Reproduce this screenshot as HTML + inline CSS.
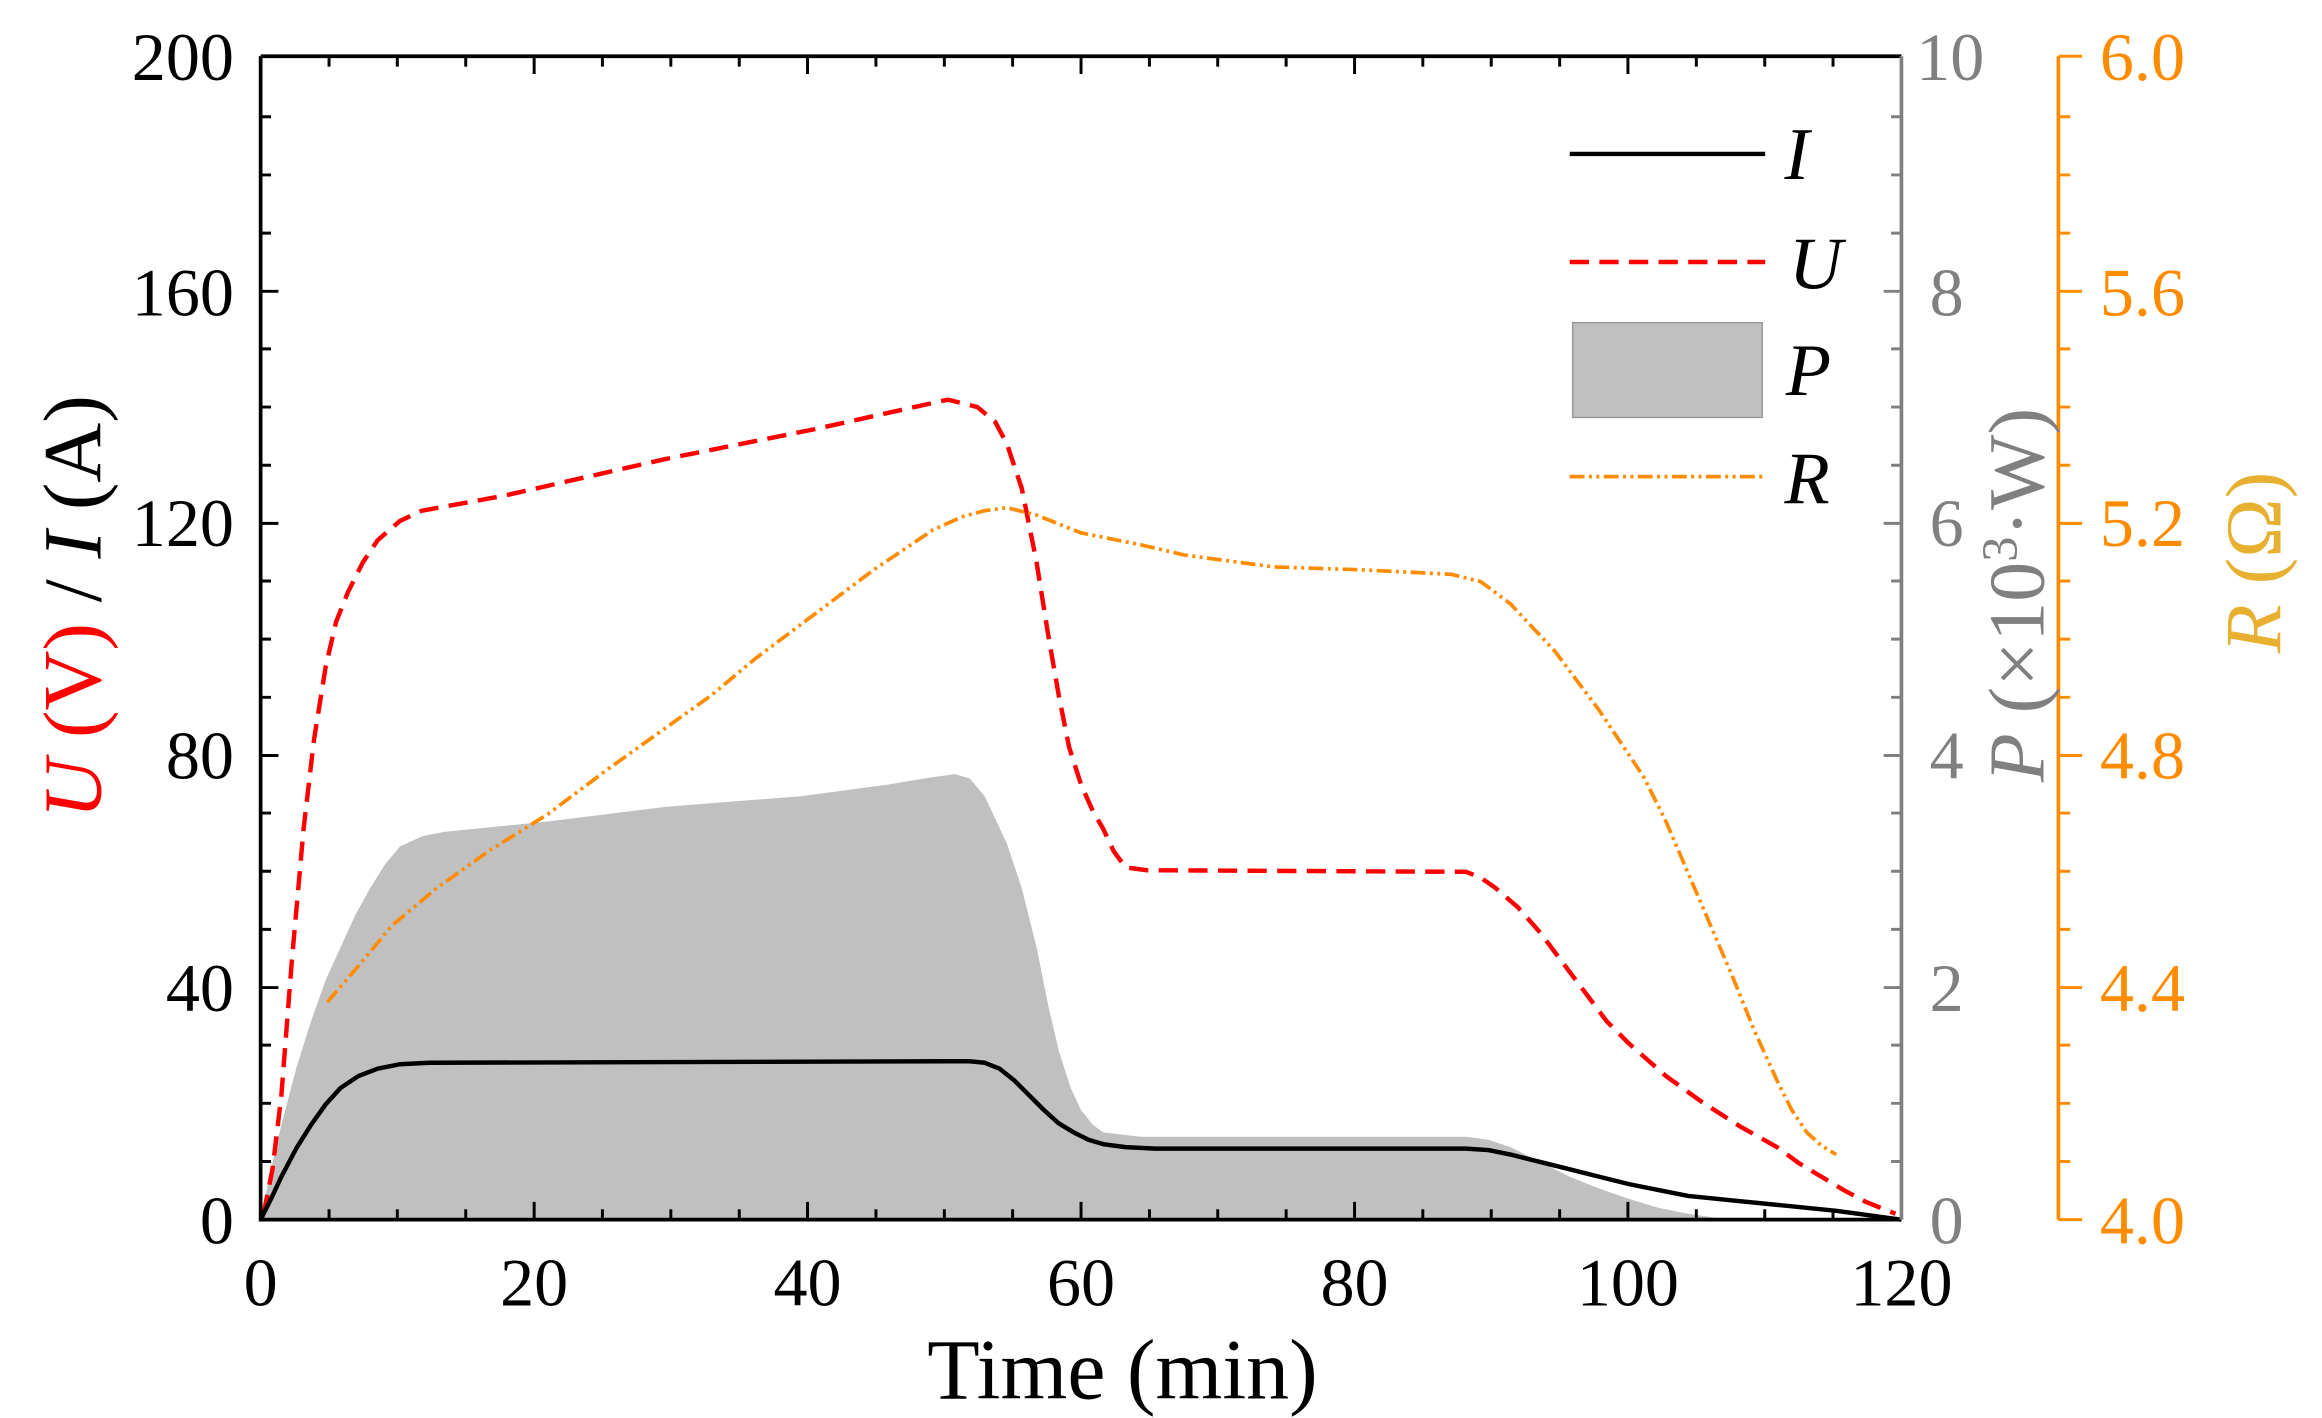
<!DOCTYPE html>
<html><head><meta charset="utf-8"><style>html,body{margin:0;padding:0;background:#fff}svg{display:block}</style></head>
<body>
<svg width="2322" height="1418" viewBox="0 0 1568 958" preserveAspectRatio="none" xmlns="http://www.w3.org/2000/svg" font-family="Liberation Serif, serif">
<rect width="1568" height="958" fill="#fff"/>
<path d="M176,824 L183,790 L190,760 L200,722 L210,690 L220,662 L230,640 L240,618 L250,600 L260,584 L270,572 L285,565 L300,562 L370,555 L450,545 L540,538 L600,530 L630,525 L645,523 L655,526 L665,538 L680,570 L690,600 L700,640 L708,680 L715,710 L723,735 L730,750 L738,760 L745,765 L770,768 L990,768 L1005,770 L1020,775 L1040,785 L1060,795 L1080,803 L1100,810 L1120,816 L1140,820 L1160,823 L1180,824 Z" fill="#c0c0c0"/>
<polyline fill="none" stroke="#ff0000" stroke-width="3" stroke-linejoin="round" stroke-dasharray="13,7" points="178,820 184,790 190,740 197,650 205,560 212,500 220,450 227,420 235,400 245,380 255,365 270,352 285,345 340,335 450,310 550,290 640,270 660,275 672,285 680,300 690,330 700,380 708,430 715,470 722,505 730,530 738,548 745,560 752,575 760,586 775,588 790,588 990,589 1000,593 1010,600 1025,613 1040,630 1055,650 1070,670 1085,690 1100,705 1125,727 1150,745 1175,761 1200,775 1215,786 1230,795 1245,804 1260,812 1280,820"/>
<polyline fill="none" stroke="#ff8c00" stroke-width="2.5" stroke-linejoin="round" stroke-dasharray="10,3,2,3,2,3" points="221,677 240,655 265,625 295,600 330,575 370,550 410,520 445,495 480,470 510,445 550,415 590,385 630,358 650,349 665,345 680,343 700,348 730,360 770,368 800,375 860,383 920,385 980,388 1000,393 1020,408 1050,440 1080,480 1110,525 1125,555 1140,590 1155,625 1170,660 1185,697 1200,730 1210,750 1220,765 1230,774 1240,780"/>
<polyline fill="none" stroke="#000" stroke-width="3" stroke-linejoin="round" points="176,824 183,810 190,795 200,776 210,760 220,746 230,735 242,727 255,722 270,719 290,718 640,717 655,717 665,718 675,722 685,730 695,740 705,750 715,759 725,765 735,770 745,773 760,775 780,776 990,776 1005,777 1020,780 1040,785 1060,790 1080,795 1100,800 1120,804 1140,808 1170,811 1200,814 1240,818 1284,824"/>
<path d="M176,38 V824 H1284" fill="none" stroke="#000" stroke-width="2.5"/>
<path d="M176,38 H1284" stroke="#000" stroke-width="2.5"/>
<path d="M1284,38 V824" stroke="#808080" stroke-width="2.5"/>
<path d="M1390,38 V824" stroke="#ff8c00" stroke-width="2.5"/>
<g stroke="#000" stroke-width="2">
<path d="M176,824v-12M360.7,824v-12M545.3,824v-12M730,824v-12M914.7,824v-12M1099.3,824v-12M176,38v12M360.7,38v12M545.3,38v12M730,38v12M914.7,38v12M1099.3,38v12"/>
<path d="M222.2,824v-7M268.3,824v-7M314.5,824v-7M406.8,824v-7M453,824v-7M499.2,824v-7M591.5,824v-7M637.7,824v-7M683.8,824v-7M776.2,824v-7M822.3,824v-7M868.5,824v-7M960.8,824v-7M1007,824v-7M1053.2,824v-7M1145.5,824v-7M1191.7,824v-7M1237.8,824v-7"/>
<path d="M222.2,38v7M268.3,38v7M314.5,38v7M406.8,38v7M453,38v7M499.2,38v7M591.5,38v7M637.7,38v7M683.8,38v7M776.2,38v7M822.3,38v7M868.5,38v7M960.8,38v7M1007,38v7M1053.2,38v7M1145.5,38v7M1191.7,38v7M1237.8,38v7"/>
<path d="M176,667.2h12M176,510.4h12M176,353.6h12M176,196.8h12"/>
<path d="M176,784.7h7M176,745.4h7M176,706.1h7M176,627.9h7M176,588.6h7M176,549.3h7M176,471.1h7M176,431.8h7M176,392.5h7M176,314.3h7M176,275h7M176,235.7h7M176,157.5h7M176,118.2h7M176,78.9h7"/>
</g>
<g stroke="#808080" stroke-width="2">
<path d="M1284,667.2h-12M1284,510.4h-12M1284,353.6h-12M1284,196.8h-12"/>
<path d="M1284,784.7h-7M1284,745.4h-7M1284,706.1h-7M1284,627.9h-7M1284,588.6h-7M1284,549.3h-7M1284,471.1h-7M1284,431.8h-7M1284,392.5h-7M1284,314.3h-7M1284,275h-7M1284,235.7h-7M1284,157.5h-7M1284,118.2h-7M1284,78.9h-7"/>
</g>
<g stroke="#ff8c00" stroke-width="2">
<path d="M1390,824h16M1390,667.2h16M1390,510.4h16M1390,353.6h16M1390,196.8h16M1390,38h16"/>
<path d="M1390,784.7h8M1390,745.4h8M1390,706.1h8M1390,627.9h8M1390,588.6h8M1390,549.3h8M1390,471.1h8M1390,431.8h8M1390,392.5h8M1390,314.3h8M1390,275h8M1390,235.7h8M1390,157.5h8M1390,118.2h8M1390,78.9h8"/>
</g>
<g font-size="46" fill="#000" text-anchor="middle">
<text x="176" y="882">0</text><text x="360.7" y="882">20</text><text x="545.3" y="882">40</text><text x="730" y="882">60</text><text x="914.7" y="882">80</text><text x="1099.3" y="882">100</text><text x="1284" y="882">120</text>
</g>
<g font-size="46" fill="#000" text-anchor="end">
<text x="158" y="840">0</text><text x="158" y="683">40</text><text x="158" y="526">80</text><text x="158" y="369">120</text><text x="158" y="213">160</text><text x="158" y="54">200</text>
</g>
<g font-size="46" fill="#808080" text-anchor="start">
<text x="1303" y="840">0</text><text x="1303" y="683">2</text><text x="1303" y="526">4</text><text x="1303" y="369">6</text><text x="1303" y="213">8</text><text x="1294" y="54">10</text>
</g>
<g font-size="46" fill="#ff8c00" text-anchor="start">
<text x="1418" y="840">4.0</text><text x="1418" y="683">4.4</text><text x="1418" y="526">4.8</text><text x="1418" y="369">5.2</text><text x="1418" y="213">5.6</text><text x="1418" y="54">6.0</text>
</g>
<text x="758" y="945" font-size="58" text-anchor="middle">Time (min)</text>
<text transform="translate(68,410) rotate(-90)" font-size="56" text-anchor="middle"><tspan fill="#ff0000" font-style="italic">U</tspan><tspan fill="#ff0000"> (V)</tspan> / <tspan font-style="italic">I</tspan> (A)</text>
<text transform="translate(1380,402) rotate(-90)" font-size="54" fill="#808080" text-anchor="middle"><tspan font-style="italic">P</tspan> (×10<tspan font-size="34" dy="-18">3</tspan><tspan dy="18">·W)</tspan></text>
<text transform="translate(1540,380) rotate(-90)" font-size="54" fill="#e8b030" text-anchor="middle"><tspan font-style="italic">R</tspan> (Ω)</text>
<line x1="1060" y1="104" x2="1192" y2="104" stroke="#000" stroke-width="3"/>
<text x="1205" y="121" font-size="50" font-style="italic">I</text>
<line x1="1060" y1="177" x2="1192" y2="177" stroke="#ff0000" stroke-width="3" stroke-dasharray="13,7"/>
<text x="1208" y="195" font-size="50" font-style="italic">U</text>
<rect x="1062" y="218" width="128" height="64" fill="#c0c0c0" stroke="#999" stroke-width="1"/>
<text x="1206" y="267" font-size="50" font-style="italic">P</text>
<line x1="1060" y1="322" x2="1192" y2="322" stroke="#ff8c00" stroke-width="2.5" stroke-dasharray="10,3,2,3,2,3"/>
<text x="1205" y="340" font-size="50" font-style="italic">R</text>
</svg>
</body></html>
